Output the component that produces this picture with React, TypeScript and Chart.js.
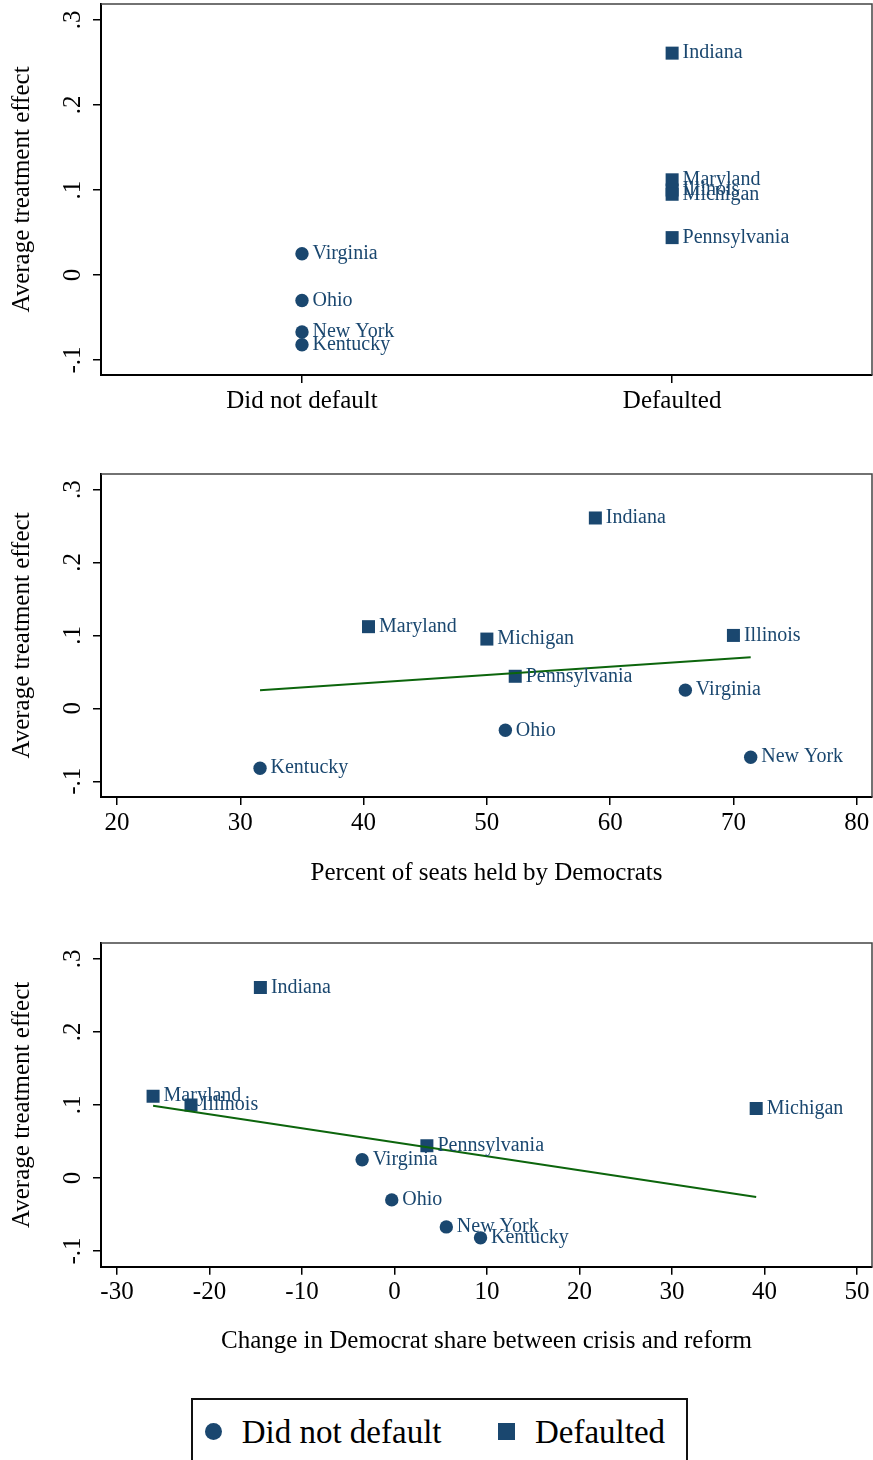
import React, { useEffect, useRef } from 'react';
import { Chart, registerables } from 'chart.js';

Chart.register(...registerables);

const NAVY = '#1a476f';
const GREEN = '#0c650c';
const FONT = '"Liberation Serif", "Times New Roman", serif';

// ---- data ----
const states = ['Indiana', 'Maryland', 'Illinois', 'Michigan', 'Pennsylvania', 'Virginia', 'Ohio', 'New York', 'Kentucky'];
const defaulted = [1, 1, 1, 1, 1, 0, 0, 0, 0];
const effect = [0.261, 0.112, 0.1, 0.095, 0.044, 0.025, -0.03, -0.067, -0.082];
const demSeats = [58.8, 40.4, 70.0, 50.0, 52.3, 66.1, 51.5, 71.4, 31.6];
const demChange = [-14.5, -26.1, -22.0, 39.1, 3.5, -3.5, -0.3, 5.6, 9.3];
const groupLabels = ['Did not default', 'Defaulted'];
const groupPos = [0, 1];

const yTicks = [-0.1, 0, 0.1, 0.2, 0.3];
const yTickLabels = ['-.1', '0', '.1', '.2', '.3'];
const seatTicks = [20, 30, 40, 50, 60, 70, 80];
const seatTickLabels = ['20', '30', '40', '50', '60', '70', '80'];
const changeTicks = [-30, -20, -10, 0, 10, 20, 30, 40, 50];
const changeTickLabels = ['-30', '-20', '-10', '0', '10', '20', '30', '40', '50'];

const seatFitX = [31.6, 71.4];
const seatFitY = [0.025, 0.07];
const changeFitX = [-26.1, 39.1];
const changeFitY = [0.099, -0.026];

type PanelSpec = {
  top: number;
  height: number;
  plotTop: number;
  plotBottom: number;
  xMin: number;
  xMax: number;
  yMin: number;
  yMax: number;
  xTicks: number[];
  xTickLabels: string[];
  xValues: number[];
  fitX?: number[];
  fitY?: number[];
  title?: string;
  titleCenter?: number;
};

const pointLabels = {
  id: 'pointLabels',
  afterDatasetsDraw(chart: any) {
    const ctx = chart.ctx;
    chart.data.datasets.forEach((ds: any, i: number) => {
      if (!ds.names) return;
      const meta = chart.getDatasetMeta(i);
      ctx.save();
      ctx.font = `20px ${FONT}`;
      ctx.fillStyle = NAVY;
      ctx.textAlign = 'left';
      ctx.textBaseline = 'middle';
      meta.data.forEach((el: any, j: number) => {
        ctx.fillText(ds.names[j], el.x + 10.5, el.y);
      });
      ctx.restore();
    });
  },
};

const framePlugin = {
  id: 'frame',
  beforeDatasetsDraw(chart: any) {
    const { ctx, chartArea: a } = chart;
    ctx.save();
    ctx.strokeStyle = '#444';
    ctx.lineWidth = 1.5;
    ctx.beginPath();
    ctx.moveTo(a.left, a.top);
    ctx.lineTo(a.right, a.top);
    ctx.lineTo(a.right, a.bottom);
    ctx.stroke();
    ctx.restore();
  },
};

function zeroPad(s: any) {
  s.paddingTop = 0;
  s.paddingBottom = 0;
  s.paddingLeft = 0;
  s.paddingRight = 0;
}

function buildConfig(p: PanelSpec): any {
  const mk = (g: number, style: string, r: number) => {
    const idx = states.map((_, i) => i).filter((i) => defaulted[i] === g);
    return {
      label: groupLabels[g],
      data: idx.map((i) => ({ x: p.xValues[i], y: effect[i] })),
      names: idx.map((i) => states[i]),
      pointStyle: style,
      pointRadius: r,
      pointHoverRadius: r,
      backgroundColor: NAVY,
      borderColor: NAVY,
      borderWidth: 0,
      showLine: false,
    };
  };
  const datasets: any[] = [];
  if (p.fitX && p.fitY) {
    datasets.push({
      label: 'fit',
      data: p.fitX.map((x, i) => ({ x, y: p.fitY![i] })),
      showLine: true,
      borderColor: GREEN,
      borderWidth: 2,
      pointRadius: 0,
      pointHoverRadius: 0,
      fill: false,
    });
  }
  datasets.push(mk(0, 'circle', 6.7));
  datasets.push(mk(1, 'rect', 9.2));

  const titleBottomPad = p.title ? p.top + p.height - (p.titleCenter as number) - 15 : 0;

  return {
    type: 'scatter',
    data: { datasets },
    plugins: [framePlugin, pointLabels],
    options: {
      animation: false,
      responsive: false,
      events: [],
      layout: { autoPadding: false, padding: { top: p.plotTop - p.top, right: 1, bottom: 0, left: 0 } },
      plugins: { legend: { display: false }, tooltip: { enabled: false } },
      scales: {
        x: {
          type: 'linear',
          min: p.xMin,
          max: p.xMax,
          bounds: 'data',
          afterBuildTicks: (s: any) => {
            s.ticks = p.xTicks.map((v) => ({ value: v }));
          },
          afterFit: (s: any) => {
            s.height = p.top + p.height - p.plotBottom;
            zeroPad(s);
          },
          ticks: {
            callback: (_v: any, i: number) => p.xTickLabels[i],
            autoSkip: false,
            minRotation: 0,
            maxRotation: 0,
            padding: 3,
            color: '#000',
            font: { family: FONT, size: 25, lineHeight: 1.2 },
          },
          grid: { drawOnChartArea: false, drawTicks: true, tickLength: 8, color: '#000', lineWidth: 1.5 },
          border: { display: true, color: '#000', width: 2 },
          title: {
            display: !!p.title,
            text: p.title || '',
            color: '#000',
            font: { family: FONT, size: 25, lineHeight: 1.2 },
            padding: { top: 0, bottom: titleBottomPad },
          },
        },
        y: {
          type: 'linear',
          min: p.yMin,
          max: p.yMax,
          bounds: 'data',
          afterBuildTicks: (s: any) => {
            s.ticks = yTicks.map((v) => ({ value: v }));
          },
          afterFit: (s: any) => {
            s.width = 101;
            zeroPad(s);
          },
          ticks: {
            callback: (_v: any, i: number) => yTickLabels[i],
            autoSkip: false,
            minRotation: 90,
            maxRotation: 90,
            crossAlign: 'center',
            padding: 6.5,
            color: '#000',
            font: { family: FONT, size: 25, lineHeight: 1.2 },
          },
          grid: { drawOnChartArea: false, drawTicks: true, tickLength: 8, color: '#000', lineWidth: 1.5 },
          border: { display: true, color: '#000', width: 2 },
          title: {
            display: true,
            text: 'Average treatment effect',
            color: '#000',
            font: { family: FONT, size: 25, lineHeight: 1.2 },
            padding: { top: 7.3, bottom: 0 },
          },
        },
      },
    },
  };
}

function Panel({ spec }: { spec: PanelSpec }) {
  const ref = useRef<HTMLCanvasElement | null>(null);
  useEffect(() => {
    if (!ref.current) return;
    const chart = new Chart(ref.current, buildConfig(spec));
    return () => chart.destroy();
  }, [spec]);
  return (
    <canvas
      ref={ref}
      width={873}
      height={spec.height}
      style={{ position: 'absolute', left: 0, top: spec.top, width: 873, height: spec.height, display: 'block' }}
    />
  );
}

const panel1: PanelSpec = {
  top: 0,
  height: 430,
  plotTop: 4,
  plotBottom: 375,
  xMin: -0.543,
  xMax: 1.54,
  yMin: -0.1176,
  yMax: 0.3188,
  xTicks: groupPos,
  xTickLabels: groupLabels,
  xValues: defaulted.map((g) => groupPos[g]),
};

const panel2: PanelSpec = {
  top: 430,
  height: 470,
  plotTop: 474,
  plotBottom: 797,
  xMin: 18.7,
  xMax: 81.24,
  yMin: -0.1215,
  yMax: 0.3213,
  xTicks: seatTicks,
  xTickLabels: seatTickLabels,
  xValues: demSeats,
  fitX: seatFitX,
  fitY: seatFitY,
  title: 'Percent of seats held by Democrats',
  titleCenter: 873.3,
};

const panel3: PanelSpec = {
  top: 900,
  height: 480,
  plotTop: 943,
  plotBottom: 1266.7,
  xMin: -31.73,
  xMax: 51.62,
  yMin: -0.1215,
  yMax: 0.3218,
  xTicks: changeTicks,
  xTickLabels: changeTickLabels,
  xValues: demChange,
  fitX: changeFitX,
  fitY: changeFitY,
  title: 'Change in Democrat share between crisis and reform',
  titleCenter: 1341.6,
};

function Legend() {
  const text: React.CSSProperties = {
    position: 'absolute',
    fontFamily: FONT,
    fontSize: 33,
    lineHeight: '33px',
    color: '#000',
    whiteSpace: 'nowrap',
  };
  return (
    <div
      style={{
        position: 'absolute',
        left: 191,
        top: 1398,
        width: 497,
        height: 90,
        border: '2px solid #111',
        boxSizing: 'border-box',
        background: '#fff',
      }}
    >
      <div
        style={{
          position: 'absolute',
          left: 213.7 - 191 - 2 - 8.8,
          top: 1431.5 - 1398 - 2 - 8.8,
          width: 17.6,
          height: 17.6,
          borderRadius: '50%',
          background: NAVY,
        }}
      />
      <span style={{ ...text, left: 241.7 - 191 - 2, top: 1415.7 - 1398 - 2 }}>{groupLabels[0]}</span>
      <div
        style={{
          position: 'absolute',
          left: 498 - 191 - 2,
          top: 1422.5 - 1398 - 2,
          width: 17,
          height: 17,
          background: NAVY,
        }}
      />
      <span style={{ ...text, left: 535 - 191 - 2, top: 1415.7 - 1398 - 2 }}>{groupLabels[1]}</span>
    </div>
  );
}

export default function App() {
  return (
    <div
      style={{
        position: 'absolute',
        left: 0,
        top: 0,
        width: 873,
        height: 1460,
        overflow: 'hidden',
        background: '#fff',
      }}
    >
      <Panel spec={panel1} />
      <Panel spec={panel2} />
      <Panel spec={panel3} />
      <Legend />
    </div>
  );
}
